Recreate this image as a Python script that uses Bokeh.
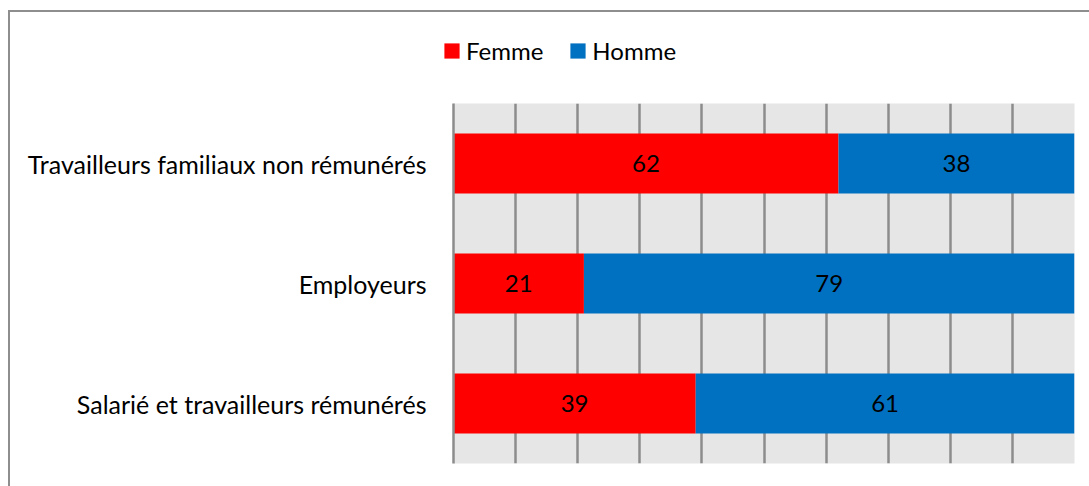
from bokeh.plotting import figure
from bokeh.layouts import column
from bokeh.models import ColumnDataSource, FactorRange, Range1d, Legend, LegendItem, LabelSet
from bokeh.embed import file_html
from bokeh.resources import INLINE
from bokeh.core.properties import value

categories = ["Travailleurs familiaux non rémunérés", "Employeurs", "Salarié et travailleurs rémunérés"]
femme = [62, 21, 39]
homme = [38, 79, 61]
series = ["Femme", "Homme"]
colors = ["#ff0000", "#0070c0"]
ticks = list(range(0, 101, 10))

FONT = "Lato"
BORDER = "#8e8e8e"
GRID = "#8c8c8c"

src = ColumnDataSource(dict(
    cat=categories,
    Femme=femme,
    Homme=homme,
    fx=[f / 2 for f in femme],
    hx=[f + h / 2 for f, h in zip(femme, homme)],
    fl=[str(v) for v in femme],
    hl=[str(v) for v in homme],
))

# --- legend strip on top ---
lg = figure(width=1089, height=103, output_backend="svg", toolbar_location=None,
            x_range=Range1d(0, 1), y_range=Range1d(0, 1),
            min_border=0, min_border_left=0, min_border_right=0,
            min_border_top=0, min_border_bottom=0)
lg.frame_align = False
lg.axis.visible = False
lg.grid.visible = False
lg.outline_line_color = None
lg.border_fill_color = None
lg.background_fill_color = None
lg.styles = {"box-shadow": f"inset 8px 0 0 0 #ffffff, inset 0 10px 0 0 #ffffff, "
                           f"inset 10px 0 0 0 {BORDER}, inset 0 12px 0 0 {BORDER}"}
dummy = [lg.quad(left=[5], right=[6], bottom=[5], top=[6], color=c, line_color=None) for c in colors]
legend = Legend(items=[LegendItem(label=s, renderers=[r]) for s, r in zip(series, dummy)],
                orientation="horizontal", location=(442, 38),
                glyph_width=19, glyph_height=19, label_standoff=5, spacing=25,
                label_text_font=FONT, label_text_font_size="24px", label_text_color="#000000",
                background_fill_alpha=0, border_line_color=None, padding=0, margin=0)
lg.add_layout(legend, "center")

# --- main chart ---
p = figure(width=1089, height=383, output_backend="svg", toolbar_location=None,
           y_range=FactorRange(*categories[::-1], range_padding=0),
           x_range=Range1d(0, 100),
           min_border_left=453, min_border_right=15, min_border_top=0, min_border_bottom=23)
p.frame_align = False
p.border_fill_color = None
p.styles = {"box-shadow": f"inset 8px 0 0 0 #ffffff, inset 10px 0 0 0 {BORDER}"}
p.y_range.factor_padding = 0
p.background_fill_color = "#e6e6e6"
p.outline_line_color = None

rs = p.hbar_stack(series, y="cat", height=0.5, color=colors, source=src, line_color=None)

p.xgrid.ticker = ticks
p.xgrid.grid_line_color = GRID
p.xgrid.grid_line_width = 2.5
p.ygrid.grid_line_color = None
p.xgrid.level = "underlay"

p.xaxis.visible = False
p.yaxis.axis_line_color = GRID
p.yaxis.axis_line_width = 2.5
p.yaxis.major_tick_line_color = None
p.yaxis.minor_tick_line_color = None
p.yaxis.major_label_standoff = 21
p.yaxis.major_label_text_font = FONT
p.yaxis.major_label_text_font_size = "25px"
p.yaxis.major_label_text_color = "#000000"

for xcol, tcol in (("fx", "fl"), ("hx", "hl")):
    lab = LabelSet(x=xcol, y="cat", text=tcol, source=src, text_align="center",
                   text_baseline="middle", text_font=value(FONT), text_font_size="24px",
                   text_color="#000000")
    p.add_layout(lab)

layout = column(lg, p, spacing=0)
open("out.html", "w").write(file_html(layout, INLINE))
